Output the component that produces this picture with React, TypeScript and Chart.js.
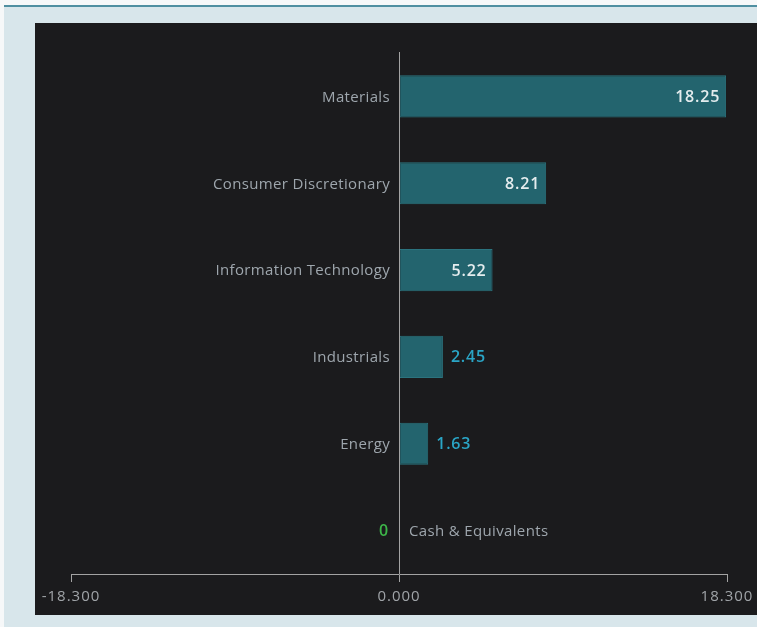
import React, { useEffect, useRef } from "react";
import { Chart, registerables } from "chart.js";

Chart.register(...registerables);

const categories = [
  "Materials",
  "Consumer Discretionary",
  "Information Technology",
  "Industrials",
  "Energy",
  "Cash & Equivalents",
];
const values = [18.25, 8.21, 5.22, 2.45, 1.63, 0];
const axisTicks = [-18.3, 0, 18.3];

const FONT = "'Open Sans', sans-serif";

const labelPlugin = {
  id: "divergingLabels",
  beforeDraw(chart: any) {
    chart.ctx.letterSpacing = "1px";
  },
  afterDatasetsDraw(chart: any) {
    const { ctx, chartArea } = chart;
    const xs = chart.scales.x;
    const meta = chart.getDatasetMeta(0);
    const x0 = xs.getPixelForValue(0);
    ctx.save();
    // zero line on top of bars
    ctx.strokeStyle = "#a3a3a3";
    ctx.lineWidth = 1;
    ctx.beginPath();
    ctx.moveTo(Math.round(x0) + 0.5, chartArea.top - 1);
    ctx.lineTo(Math.round(x0) + 0.5, chartArea.bottom);
    ctx.stroke();
    ctx.textBaseline = "middle";
    meta.data.forEach((bar: any, i: number) => {
      const v = values[i];
      const y = bar.y + 1;
      const xe = xs.getPixelForValue(v);
      if (v > 0) {
        ctx.font = `15px ${FONT}`;
        ctx.letterSpacing = "0.35px";
        ctx.fillStyle = "#9ea6ad";
        ctx.textAlign = "right";
        ctx.fillText(categories[i], x0 - 9, y);
        const txt = v.toFixed(2);
        ctx.font = `600 16px ${FONT}`;
        ctx.letterSpacing = "0.8px";
        const w = ctx.measureText(txt).width;
        if (w + 18 < xe - x0) {
          ctx.fillStyle = "#e4ecee";
          ctx.textAlign = "right";
          ctx.fillText(txt, xe - 6, y);
        } else {
          ctx.fillStyle = "#2aa5c6";
          ctx.textAlign = "left";
          ctx.fillText(txt, xe + 8, y);
        }
      } else {
        ctx.font = `600 16px ${FONT}`;
        ctx.letterSpacing = "0.8px";
        ctx.fillStyle = "#3db549";
        ctx.textAlign = "right";
        ctx.fillText("0", x0 - 10, y);
        ctx.font = `15px ${FONT}`;
        ctx.letterSpacing = "0.35px";
        ctx.fillStyle = "#9ea6ad";
        ctx.textAlign = "left";
        ctx.fillText(categories[i], x0 + 10, y);
      }
    });
    ctx.restore();
  },
};

export default function App() {
  const ref = useRef<HTMLCanvasElement | null>(null);
  useEffect(() => {
    if (!ref.current) return;
    const chart = new Chart(ref.current, {
      type: "bar",
      data: {
        labels: categories,
        datasets: [
          {
            data: values,
            backgroundColor: "#23646e",
            borderColor: "#2b737e",
            borderWidth: 1,
            borderSkipped: false,
            barPercentage: 0.485,
            categoryPercentage: 1,
          },
        ],
      },
      options: {
        indexAxis: "y",
        animation: false,
        responsive: false,
        maintainAspectRatio: false,
        layout: { padding: { left: 36, right: 30, top: 30, bottom: 0 } },
        plugins: { legend: { display: false }, tooltip: { enabled: false } },
        scales: {
          x: {
            min: -18.3,
            max: 18.3,
            afterBuildTicks: (scale: any) => {
              scale.ticks = axisTicks.map((v) => ({ value: v }));
            },
            afterFit: (scale: any) => {
              scale.height = 41;
            },
            ticks: {
              color: "#a0a4a8",
              font: { family: FONT, size: 15 },
              padding: 6,
              maxRotation: 0,
              autoSkip: false,
              callback: (v: any) => Number(v).toFixed(3),
            },
            grid: {
              drawOnChartArea: false,
              drawTicks: true,
              tickLength: 8,
              tickColor: "#a3a3a3",
            },
            border: { display: true, color: "#a3a3a3" },
          },
          y: {
            display: false,
            offset: true,
          },
        },
      },
      plugins: [labelPlugin],
    });
    return () => chart.destroy();
  }, []);

  return (
    <div
      style={{
        position: "fixed",
        left: 0,
        top: 0,
        width: 757,
        height: 627,
        background: "#f6f8f9",
        overflow: "hidden",
      }}
    >
      <div
        style={{
          position: "absolute",
          left: 4,
          top: 5,
          right: 0,
          bottom: 0,
          background: "#d8e6eb",
          borderTop: "2px solid #4f8fa1",
        }}
      />
      <div
        style={{
          position: "absolute",
          left: 35,
          top: 23,
          width: 722,
          height: 592,
          background: "#1b1b1d",
        }}
      >
        <canvas ref={ref} width={722} height={592} style={{ display: "block", width: 722, height: 592 }} />
      </div>
    </div>
  );
}
